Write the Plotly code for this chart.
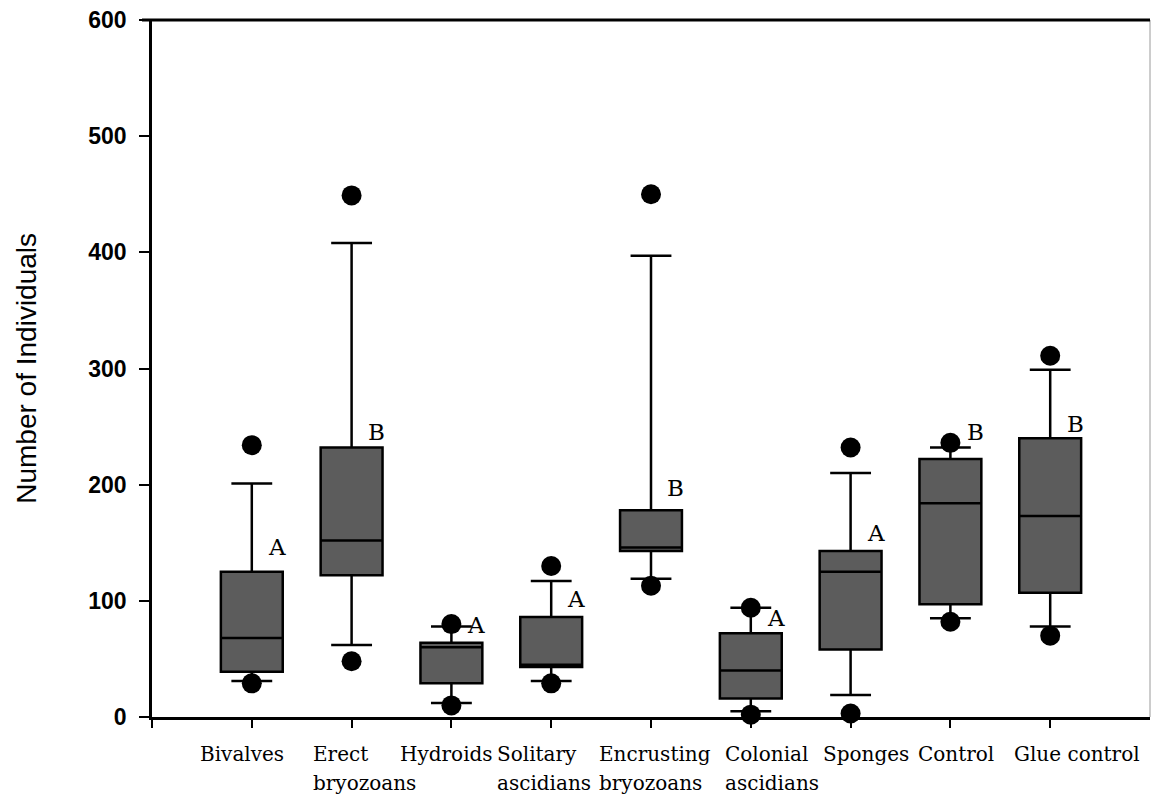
import plotly.graph_objects as go

# Category labels and box statistics (number of individuals)
categories = ["Bivalves", "Erect<br>bryozoans", "Hydroids", "Solitary<br>ascidians",
              "Encrusting<br>bryozoans", "Colonial<br>ascidians", "Sponges",
              "Control", "Glue control"]
p5 = [29, 48, 10, 29, 113, 2, 3, 82, 70]
whisker_low = [31, 62, 12, 31, 119, 5, 19, 85, 78]
q1 = [39, 122, 29, 43, 143, 16, 58, 97, 107]
median = [68, 152, 60, 45, 146, 40, 125, 184, 173]
q3 = [125, 232, 64, 86, 178, 72, 143, 222, 240]
whisker_high = [201, 408, 78, 117, 397, 94, 210, 232, 299]
p95 = [234, 449, 80, 130, 450, 94, 232, 236, 311]

# Significance groups and the height at which each letter sits
letters = ["A", "B", "A", "A", "B", "A", "A", "B", "B"]
letter_y = [146, 245, 79, 102, 197, 85, 158, 245, 252]

# left edge of each (left-aligned) category label, in category units from its tick
label_left = [-0.54, -0.41, -0.54, -0.56, -0.54, -0.28, -0.30, -0.34, -0.38]

positions = list(range(len(categories)))

fig = go.Figure()

fig.add_trace(go.Box(
    x=positions,
    q1=q1, median=median, q3=q3,
    lowerfence=whisker_low, upperfence=whisker_high,
    width=0.62,
    whiskerwidth=0.66,
    fillcolor="#5c5c5c",
    line=dict(color="#000000", width=2.5),
    boxpoints=False,
    hoverinfo="skip",
    showlegend=False,
))

# 5th / 95th percentile points
fig.add_trace(go.Scatter(
    x=positions + positions,
    y=p5 + p95,
    mode="markers",
    marker=dict(size=20, color="#000000"),
    cliponaxis=False,
    showlegend=False,
    hoverinfo="skip",
))

for i, (lab, ly) in enumerate(zip(letters, letter_y)):
    fig.add_annotation(
        x=i + 0.25, y=ly, text=lab, showarrow=False,
        xanchor="center", yanchor="middle",
        font=dict(family="DejaVu Serif", size=23, color="#000000"),
    )

# category labels: left-aligned lines under each tick
line_tops = [-0.033, -0.075]
for i, (cat, off) in enumerate(zip(categories, label_left)):
    for row, part in enumerate(cat.split("<br>")):
        fig.add_annotation(
            x=i + off, xref="x", y=line_tops[row], yref="paper", text=part,
            showarrow=False, xanchor="left", yanchor="top", align="left",
            font=dict(family="DejaVu Serif", size=20, color="#000000"),
        )

# y-axis title
fig.add_annotation(
    xref="paper", yref="paper", x=-0.126, y=0.5, text="Number of Individuals",
    showarrow=False, textangle=-90, xanchor="center", yanchor="middle",
    font=dict(family="Liberation Sans, Arial, sans-serif", size=28, color="#000000"),
)

# thin right border of the plotting area
fig.add_shape(type="line", xref="paper", yref="paper", x0=1, x1=1, y0=0, y1=1,
              line=dict(color="#9a9a9a", width=1))

fig.update_layout(
    width=1151, height=799,
    margin=dict(l=152, r=1, t=20, b=82),
    paper_bgcolor="white", plot_bgcolor="white",
    xaxis=dict(
        range=[-1, 9],
        tickvals=[-1] + positions,
        showticklabels=False,
        ticks="outside", ticklen=8, tickwidth=2, tickcolor="#000000",
        showline=True, linecolor="#000000", linewidth=2.5,
        mirror=False, showgrid=False, zeroline=False,
    ),
    yaxis=dict(
        range=[0, 600],
        tickvals=[0, 100, 200, 300, 400, 500, 600],
        ticks="outside", ticklen=10, tickwidth=2, tickcolor="#000000",
        ticklabelstandoff=8,
        showline=True, linecolor="#000000", linewidth=2.5,
        showgrid=False, zeroline=False,
        tickfont=dict(family="Liberation Sans, Arial, sans-serif", size=23, color="#000000", weight="bold"),
    ),
)

# heavy top border
fig.add_shape(type="line", xref="paper", yref="paper", x0=-0.01, x1=1, y0=1, y1=1,
              line=dict(color="#000000", width=3))

fig.write_html("out.html")
